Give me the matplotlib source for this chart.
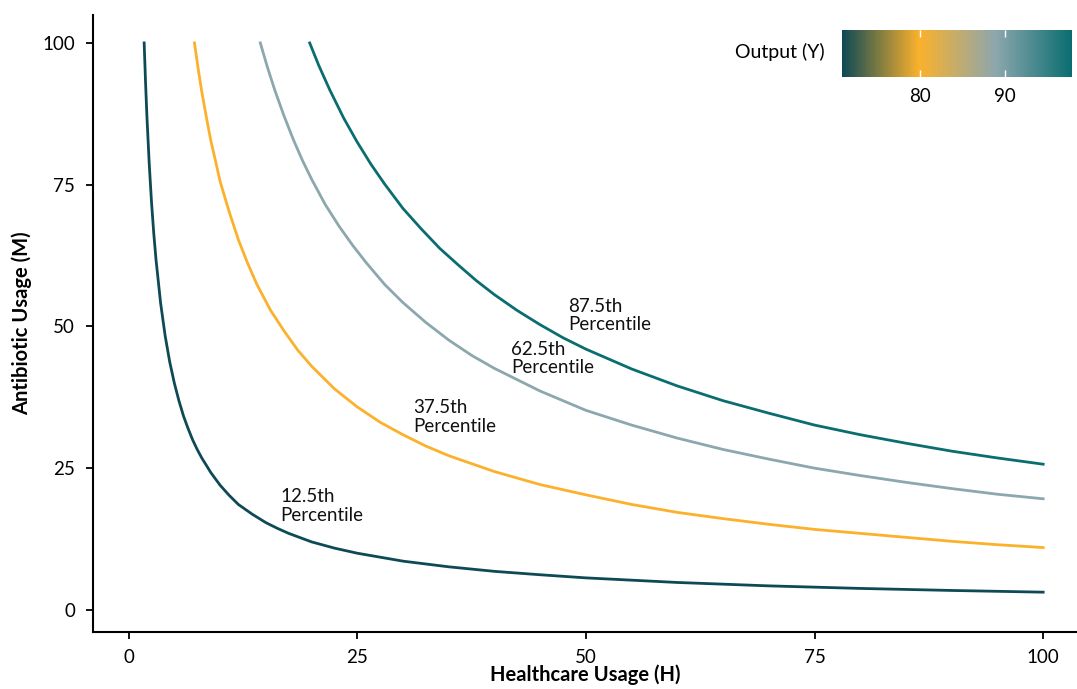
import matplotlib
matplotlib.use("Agg")
import matplotlib.pyplot as plt
from matplotlib.colors import LinearSegmentedColormap, Normalize
from matplotlib.cm import ScalarMappable

plt.rcParams['font.family'] = ['Lato', 'DejaVu Sans']

# Contour lines (H = healthcare usage, M = antibiotic usage)
h_p12 = [1.7, 1.85, 2, 2.25, 2.5, 2.75, 3, 3.5, 4, 4.5, 5, 5.5, 6, 6.5, 7, 7.5, 8, 9, 10, 11, 12,
         13.5, 15, 16.25, 17.5, 20, 22.5, 25, 30, 35, 40, 45, 50, 60, 70, 80, 90, 100]
m_p12 = [100, 93.1, 87.1, 78.8, 72.0, 66.4, 61.7, 54.1, 48.3, 43.7, 40.0, 36.9, 34.2, 32.0, 30.0,
         28.3, 26.8, 24.2, 22.0, 20.2, 18.6, 16.9, 15.4, 14.4, 13.5, 12.0, 10.9, 10.0, 8.6, 7.6, 6.8,
         6.2, 5.65, 4.84, 4.24, 3.79, 3.43, 3.13]

h_p37 = [7.2, 7.6, 8, 8.5, 9, 9.5, 10, 11, 12, 13, 14, 15.5, 17, 18.5, 20, 22.5, 25, 27.5, 30, 32.5,
         35, 40, 45, 50, 55, 60, 65, 70, 75, 80, 85, 90, 95, 100]
m_p37 = [100, 95.5, 91.4, 86.9, 82.7, 79.2, 75.6, 70.2, 65.3, 61.2, 57.5, 52.9, 49.2, 45.8, 43.0,
         39.0, 35.8, 33.1, 30.9, 28.9, 27.2, 24.4, 22.1, 20.3, 18.6, 17.2, 16.1, 15.1, 14.2, 13.5,
         12.8, 12.1, 11.5, 11.0]

h_p62 = [14.4, 15.2, 16, 17, 18, 19, 20, 21.5, 23, 24.5, 26, 28, 30, 32.5, 35, 37.5, 40, 45, 50, 55,
         60, 65, 70, 75, 80, 85, 90, 95, 100]
m_p62 = [100, 95.6, 91.6, 87.1, 83.0, 79.3, 76.0, 71.5, 67.7, 64.3, 61.2, 57.4, 54.2, 50.7, 47.6,
         44.9, 42.6, 38.6, 35.2, 32.6, 30.3, 28.3, 26.6, 25.0, 23.7, 22.5, 21.4, 20.4, 19.6]

h_p87 = [19.8, 20.8, 22, 23.5, 25, 26.5, 28, 30, 32, 34, 36, 38, 40, 42.5, 45, 47.5, 50, 55, 60, 65,
         70, 75, 80, 85, 90, 95, 100]
m_p87 = [100, 96.0, 91.7, 86.8, 82.5, 78.6, 75.1, 70.8, 67.2, 63.8, 60.9, 58.1, 55.6, 52.8, 50.3,
         48.0, 46.0, 42.5, 39.5, 36.9, 34.7, 32.6, 30.9, 29.4, 28.0, 26.8, 25.7]

labels = ['12.5th\nPercentile', '37.5th\nPercentile', '62.5th\nPercentile', '87.5th\nPercentile']
label_h = [16.6, 31.1, 41.8, 48.1]
label_m = [18.3, 34.0, 44.3, 51.9]

colors = ['#0e4a56', '#fbb12b', '#8ca7ad', '#0a6d70']
cbar_min, cbar_max = 70.8, 97.9
cbar_ticks = [80, 90]

fig = plt.figure(figsize=(10.77, 6.89), dpi=100)
ax = fig.add_axes([0.0863, 0.0827, 0.9137, 0.8953])

curves = [(h_p12, m_p12), (h_p37, m_p37), (h_p62, m_p62), (h_p87, m_p87)]
for (h, m), c in zip(curves, colors):
    ax.plot(h, m, color=c, lw=2, solid_joinstyle='round')

for txt, x, y in zip(labels, label_h, label_m):
    ax.text(x, y, txt, ha='left', va='center', fontsize=13.5, color='#111111', linespacing=1.1)

ax.set_xlim(-3.9, 103.7)
ax.set_ylim(-3.9, 104.9)
ax.set_xticks([0, 25, 50, 75, 100])
ax.set_yticks([0, 25, 50, 75, 100])
ax.tick_params(labelsize=13.5, width=1.3, length=5)
ax.tick_params(axis='x', pad=7)
ax.tick_params(axis='y', pad=8)
ax.spines['top'].set_visible(False)
ax.spines['right'].set_visible(False)
ax.spines['left'].set_linewidth(1.5)
ax.spines['bottom'].set_linewidth(1.5)
ax.set_xlabel('Healthcare Usage (H)', fontsize=14.5, fontweight='bold', labelpad=-1)
ax.set_ylabel('Antibiotic Usage (M)', fontsize=14.5, fontweight='bold', labelpad=7)

# colour bar in the top-right corner
cmap = LinearSegmentedColormap.from_list('out', colors)
cax = fig.add_axes([0.782, 0.888, 0.2136, 0.068])
sm = ScalarMappable(norm=Normalize(cbar_min, cbar_max), cmap=cmap)
cbar = fig.colorbar(sm, cax=cax, orientation='horizontal', ticks=cbar_ticks)
cbar.outline.set_visible(False)
cax.tick_params(direction='in', color='white', length=5, width=1, top=True, bottom=True,
                labelsize=13.5, pad=8)
fig.text(0.766, 0.9245, 'Output (Y)', ha='right', va='center', fontsize=14)

plt.savefig('out.png', dpi=100)
